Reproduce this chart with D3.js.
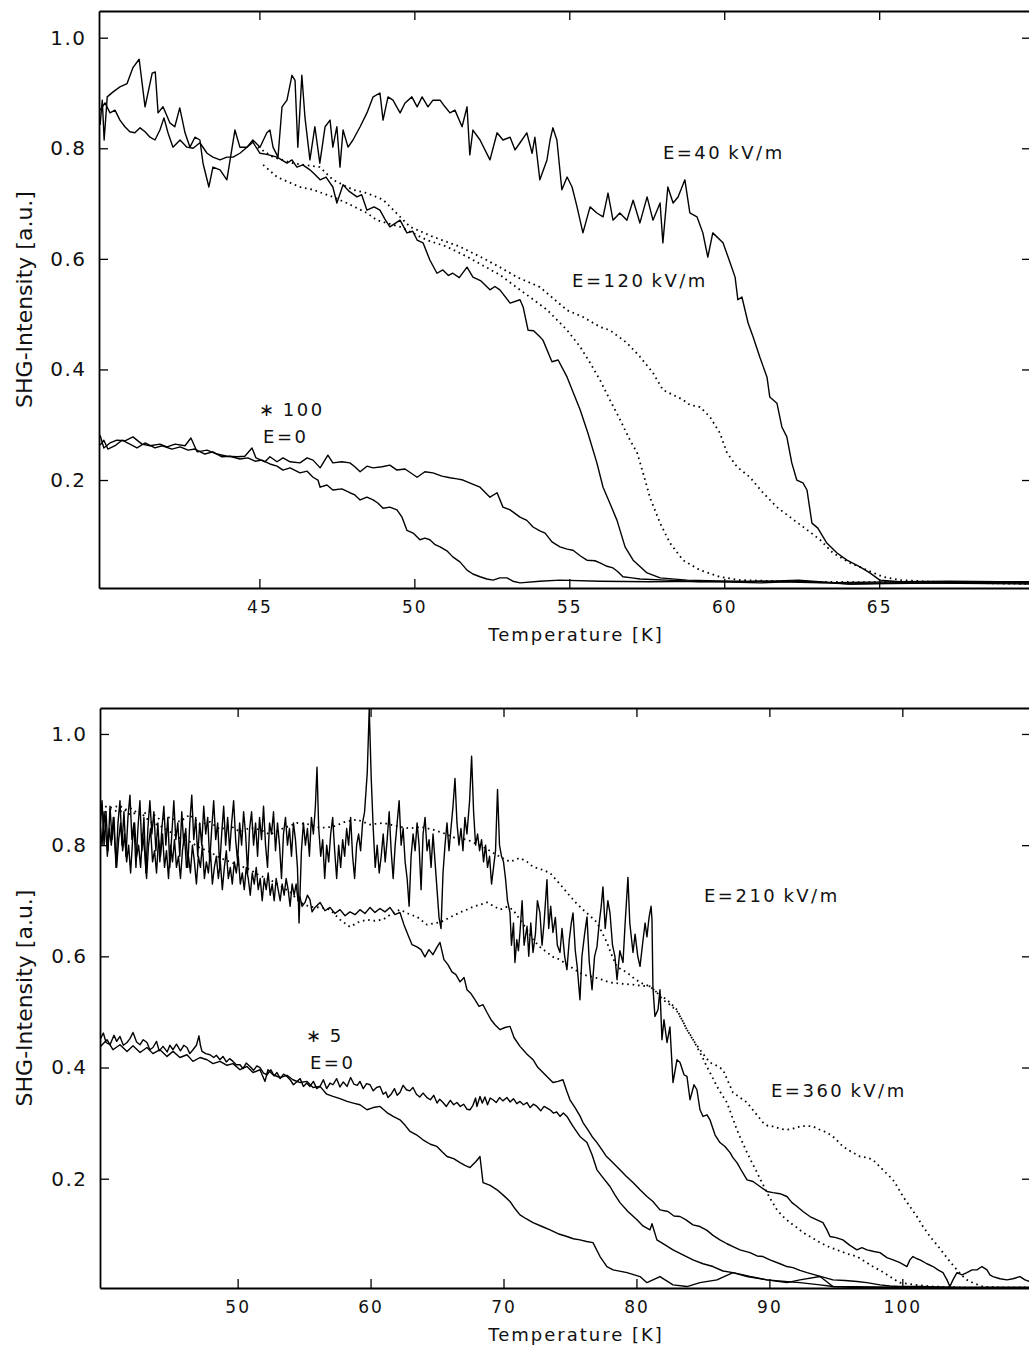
<!DOCTYPE html>
<html>
<head>
<meta charset="utf-8">
<script src="https://cdn.jsdelivr.net/npm/d3@7"></script>
<style>
  body { margin: 0; background: #fff; }
  text { font-family: "DejaVu Sans", sans-serif; fill: #111; }
  .axis path.domain { stroke: #000; stroke-width: 1.8; }
  .axis line { stroke: #000; stroke-width: 1.3; }
  .x-axis text { font-size: 17px; letter-spacing: 2px; }
  .y-axis text { font-size: 20px; letter-spacing: 1.5px; }
  .x-title { font-size: 18px; letter-spacing: 2px; }
  .y-title { font-size: 22px; }
  .note { font-size: 18px; letter-spacing: 2.5px; }
</style>
</head>
<body>
<svg id="chart" width="1029" height="1352"></svg>
<script>
// ---- tick values ----
const topXTicks = [45, 50, 55, 60, 65];
const botXTicks = [50, 60, 70, 80, 90, 100];
const yTicks = [0.2, 0.4, 0.6, 0.8, 1.0];

// ---- upper panel: [T (K), SHG intensity] ----
const topE40 = [[39.86,0.842],[39.93,0.887],[39.99,0.815],[40.09,0.893],[40.28,0.902],[40.50,0.911],[40.73,0.917],[40.92,0.946],[41.12,0.961],[41.31,0.875],[41.54,0.936],[41.64,0.938],[41.73,0.864],[41.89,0.875],[42.11,0.846],[42.27,0.839],[42.43,0.873],[42.60,0.828],[42.76,0.802],[42.92,0.820],[43.08,0.815],[43.18,0.773],[43.37,0.730],[43.50,0.766],[43.73,0.761],[43.95,0.743],[44.21,0.833],[44.37,0.802],[44.60,0.802],[44.79,0.815],[45.02,0.802],[45.24,0.828],[45.34,0.833],[45.44,0.802],[45.60,0.784],[45.73,0.875],[45.89,0.887],[46.05,0.932],[46.15,0.923],[46.24,0.802],[46.37,0.932],[46.47,0.856],[46.63,0.779],[46.79,0.839],[46.95,0.773],[47.12,0.839],[47.28,0.851],[47.37,0.802],[47.50,0.839],[47.60,0.766],[47.70,0.833],[47.86,0.802],[48.02,0.815],[48.25,0.839],[48.47,0.864],[48.67,0.893],[48.89,0.900],[48.99,0.851],[49.15,0.893],[49.31,0.887],[49.54,0.864],[49.70,0.882],[49.92,0.893],[50.09,0.875],[50.25,0.893],[50.44,0.875],[50.60,0.887],[50.83,0.887],[50.99,0.875],[51.15,0.864],[51.31,0.869],[51.54,0.839],[51.70,0.875],[51.79,0.788],[51.89,0.833],[52.12,0.815],[52.44,0.779],[52.67,0.828],[52.86,0.815],[53.09,0.820],[53.25,0.797],[53.41,0.810],[53.63,0.828],[53.80,0.791],[53.89,0.820],[54.05,0.743],[54.28,0.779],[54.38,0.815],[54.47,0.837],[54.60,0.815],[54.76,0.725],[54.93,0.748],[55.09,0.730],[55.25,0.694],[55.44,0.647],[55.67,0.694],[55.89,0.683],[56.09,0.676],[56.25,0.719],[56.41,0.670],[56.63,0.683],[56.86,0.670],[57.06,0.706],[57.28,0.665],[57.51,0.712],[57.70,0.670],[57.93,0.701],[58.02,0.629],[58.18,0.730],[58.35,0.701],[58.51,0.712],[58.73,0.743],[58.89,0.683],[59.12,0.676],[59.31,0.647],[59.47,0.603],[59.63,0.647],[59.96,0.629],[60.19,0.593],[60.35,0.567],[60.44,0.526],[60.57,0.531],[60.77,0.484],[60.93,0.459],[61.15,0.422],[61.38,0.386],[61.47,0.350],[61.70,0.339],[61.86,0.296],[62.02,0.278],[62.18,0.231],[62.34,0.200],[62.54,0.195],[62.67,0.182],[62.83,0.122],[63.02,0.113],[63.31,0.086],[63.64,0.068],[63.96,0.055],[64.38,0.043],[64.70,0.032],[65.02,0.019],[65.67,0.016],[67.28,0.017],[68.89,0.016],[69.90,0.016]];

const topE120 = [[39.86,0.869],[40.02,0.882],[40.18,0.864],[40.34,0.869],[40.50,0.851],[40.66,0.839],[40.82,0.830],[40.98,0.828],[41.15,0.837],[41.31,0.830],[41.47,0.820],[41.63,0.815],[41.79,0.833],[41.92,0.855],[42.05,0.828],[42.21,0.802],[42.44,0.815],[42.66,0.802],[42.86,0.800],[43.08,0.810],[43.31,0.791],[43.50,0.784],[43.73,0.779],[43.95,0.784],[44.15,0.784],[44.37,0.791],[44.60,0.802],[44.79,0.811],[45.02,0.791],[45.24,0.789],[45.57,0.784],[45.89,0.773],[46.05,0.779],[46.21,0.766],[46.40,0.770],[46.63,0.761],[46.80,0.752],[46.96,0.743],[47.15,0.748],[47.37,0.730],[47.50,0.701],[47.70,0.734],[47.90,0.722],[48.15,0.712],[48.30,0.716],[48.47,0.688],[48.70,0.694],[48.89,0.688],[49.05,0.672],[49.21,0.658],[49.54,0.670],[49.76,0.647],[49.95,0.650],[50.09,0.634],[50.28,0.629],[50.50,0.598],[50.73,0.574],[50.92,0.580],[51.10,0.570],[51.24,0.574],[51.45,0.566],[51.70,0.585],[51.89,0.567],[52.15,0.560],[52.44,0.544],[52.60,0.550],[52.76,0.544],[53.09,0.520],[53.41,0.526],[53.51,0.513],[53.67,0.471],[53.85,0.470],[54.05,0.459],[54.15,0.453],[54.44,0.414],[54.64,0.417],[54.93,0.386],[55.12,0.359],[55.35,0.327],[55.60,0.285],[55.89,0.231],[56.09,0.187],[56.31,0.158],[56.54,0.127],[56.80,0.079],[57.06,0.055],[57.51,0.032],[57.93,0.023],[58.80,0.019],[60.83,0.016],[62.40,0.019],[64.06,0.012],[67.28,0.014],[69.90,0.014]];

const topE120DotA = [[44.95,0.802],[45.44,0.784],[46.08,0.773],[46.95,0.766],[47.37,0.743],[48.02,0.725],[48.47,0.719],[48.99,0.707],[49.31,0.689],[49.86,0.658],[50.60,0.640],[51.47,0.622],[52.12,0.604],[52.76,0.585],[53.31,0.567],[54.05,0.549],[54.93,0.507],[55.44,0.495],[55.99,0.477],[56.31,0.471],[56.86,0.448],[57.28,0.423],[57.70,0.394],[58.02,0.363],[58.35,0.354],[58.67,0.345],[58.89,0.336],[59.22,0.332],[59.54,0.314],[59.86,0.285],[60.09,0.249],[60.41,0.224],[60.83,0.205],[61.25,0.177],[61.70,0.151],[62.12,0.133],[62.67,0.110],[63.09,0.092],[63.51,0.068],[64.06,0.050],[64.61,0.037],[65.12,0.025],[65.67,0.019],[66.73,0.016],[67.83,0.014],[69.90,0.012]];

const topE120DotB = [[45.12,0.770],[45.57,0.748],[46.31,0.730],[46.73,0.725],[47.37,0.712],[47.82,0.701],[48.47,0.683],[48.79,0.670],[49.54,0.658],[50.41,0.634],[51.05,0.622],[51.70,0.604],[52.76,0.571],[53.41,0.544],[54.28,0.508],[54.93,0.471],[55.35,0.441],[55.67,0.412],[55.99,0.381],[56.31,0.345],[56.64,0.309],[56.96,0.272],[57.19,0.249],[57.38,0.213],[57.60,0.169],[57.93,0.122],[58.25,0.086],[58.67,0.055],[59.22,0.037],[59.86,0.025],[60.51,0.019],[62.44,0.016],[69.90,0.014]];

const topE0A = [[39.86,0.281],[39.98,0.258],[40.18,0.267],[40.40,0.272],[40.66,0.271],[40.92,0.278],[41.21,0.265],[41.47,0.262],[41.79,0.265],[42.02,0.260],[42.28,0.265],[42.60,0.262],[42.79,0.276],[42.99,0.251],[43.31,0.254],[43.63,0.247],[43.95,0.243],[44.28,0.242],[44.53,0.243],[44.76,0.258],[44.89,0.240],[45.18,0.233],[45.34,0.242],[45.57,0.233],[45.76,0.240],[45.99,0.233],[46.31,0.231],[46.54,0.240],[46.73,0.236],[46.96,0.222],[47.21,0.245],[47.37,0.231],[47.66,0.233],[47.92,0.231],[48.08,0.224],[48.25,0.215],[48.47,0.225],[48.67,0.222],[48.96,0.224],[49.21,0.227],[49.44,0.218],[49.70,0.220],[50.09,0.205],[50.34,0.215],[50.60,0.213],[50.89,0.207],[51.15,0.204],[51.38,0.202],[51.57,0.200],[51.86,0.193],[52.12,0.187],[52.44,0.169],[52.67,0.177],[52.86,0.151],[53.09,0.146],[53.41,0.133],[53.63,0.127],[53.83,0.115],[54.05,0.108],[54.22,0.104],[54.44,0.088],[54.70,0.079],[54.93,0.075],[55.12,0.073],[55.35,0.063],[55.57,0.055],[55.83,0.054],[55.99,0.050],[56.22,0.044],[56.41,0.041],[56.57,0.034],[56.73,0.025],[57.02,0.023],[57.28,0.021],[58.15,0.019],[59.22,0.016],[61.15,0.017],[63.09,0.014],[65.67,0.016],[69.90,0.014]];

const topE0B = [[39.86,0.263],[39.98,0.272],[40.11,0.256],[40.34,0.262],[40.57,0.272],[40.82,0.265],[41.05,0.258],[41.31,0.267],[41.63,0.258],[41.86,0.262],[42.18,0.256],[42.44,0.260],[42.70,0.254],[42.92,0.256],[43.24,0.247],[43.50,0.251],[43.79,0.242],[44.05,0.243],[44.37,0.238],[44.63,0.240],[44.86,0.234],[45.08,0.236],[45.34,0.229],[45.57,0.225],[45.76,0.218],[45.99,0.222],[46.31,0.213],[46.54,0.216],[46.73,0.205],[46.89,0.200],[46.96,0.187],[47.18,0.191],[47.37,0.182],[47.66,0.184],[47.92,0.177],[48.08,0.173],[48.25,0.164],[48.47,0.169],[48.67,0.164],[48.83,0.158],[48.99,0.149],[49.21,0.151],[49.44,0.146],[49.60,0.133],[49.76,0.109],[49.96,0.104],[50.18,0.092],[50.34,0.095],[50.50,0.092],[50.67,0.083],[50.83,0.079],[51.05,0.072],[51.24,0.061],[51.47,0.052],[51.70,0.037],[51.89,0.030],[52.12,0.025],[52.34,0.021],[52.54,0.019],[52.76,0.023],[52.99,0.023],[53.18,0.017],[53.41,0.014],[54.05,0.017],[54.70,0.019],[55.99,0.017],[57.60,0.016],[59.22,0.017],[61.15,0.014],[62.44,0.017],[64.06,0.012],[65.67,0.014],[69.90,0.012]];

// ---- lower panel ----
const botSolidA = [[39.65,0.83],[39.8,0.88],[39.95,0.80],[40.1,0.86],[40.25,0.79],[40.4,0.87],[40.55,0.81],[40.7,0.85],[40.85,0.76],[41.0,0.84],[41.15,0.88],[41.3,0.80],[41.45,0.86],[41.6,0.78],[41.75,0.85],[41.9,0.89],[42.05,0.81],[42.2,0.84],[42.35,0.76],[42.5,0.83],[42.65,0.88],[42.8,0.79],[42.95,0.85],[43.1,0.75],[43.25,0.83],[43.4,0.88],[43.55,0.82],[43.7,0.86],[43.85,0.79],[44.0,0.84],[44.15,0.77],[44.3,0.83],[44.45,0.87],[44.6,0.80],[44.75,0.85],[44.9,0.76],[45.05,0.82],[45.2,0.88],[45.35,0.81],[45.5,0.84],[45.65,0.78],[45.8,0.86],[45.95,0.80],[46.1,0.83],[46.25,0.76],[46.4,0.84],[46.55,0.89],[46.7,0.81],[46.85,0.85],[47.0,0.78],[47.15,0.84],[47.3,0.80],[47.45,0.87],[47.6,0.82],[47.75,0.85],[47.9,0.77],[48.05,0.83],[48.2,0.88],[48.35,0.81],[48.5,0.84],[48.65,0.76],[48.8,0.82],[48.95,0.87],[49.1,0.80],[49.25,0.85],[49.4,0.79],[49.55,0.84],[49.7,0.88],[49.85,0.81],[50.0,0.77],[50.15,0.84],[50.3,0.80],[50.45,0.86],[50.6,0.82],[50.75,0.75],[50.9,0.83],[51.05,0.86],[51.2,0.80],[51.35,0.84],[51.5,0.78],[51.65,0.85],[51.8,0.81],[51.95,0.87],[52.1,0.80],[52.25,0.76],[52.4,0.84],[52.55,0.82],[52.7,0.86],[52.85,0.79],[53.0,0.84],[53.15,0.80],[53.3,0.74],[53.45,0.82],[53.6,0.85],[53.75,0.80],[53.9,0.83],[54.05,0.78],[54.2,0.84],[54.35,0.81],[54.5,0.76],[54.62,0.66],[54.8,0.79],[54.95,0.84],[55.1,0.80],[55.25,0.83],[55.4,0.78],[55.55,0.85],[55.7,0.82],[55.85,0.87],[55.97,0.94],[56.1,0.83],[56.25,0.78],[56.4,0.81],[56.55,0.74],[56.7,0.80],[56.85,0.77],[57.0,0.82],[57.15,0.85],[57.3,0.79],[57.45,0.74],[57.6,0.80],[57.75,0.76],[57.9,0.81],[58.05,0.78],[58.2,0.83],[58.35,0.80],[58.5,0.85],[58.65,0.78],[58.8,0.74],[58.95,0.80],[59.1,0.82],[59.25,0.79],[59.4,0.84],[59.55,0.86],[59.75,0.93],[59.9,1.045],[60.05,0.92],[60.2,0.83],[60.35,0.76],[60.5,0.80],[60.65,0.75],[60.8,0.78],[60.95,0.82],[61.1,0.77],[61.25,0.81],[61.4,0.86],[61.55,0.79],[61.7,0.74],[61.85,0.80],[62.0,0.84],[62.15,0.88],[62.3,0.80],[62.45,0.83],[62.6,0.77],[62.75,0.74],[62.9,0.69],[63.05,0.78],[63.2,0.82],[63.35,0.79],[63.5,0.84],[63.65,0.80],[63.8,0.72],[63.95,0.82],[64.1,0.85],[64.25,0.79],[64.4,0.81],[64.55,0.76],[64.7,0.82],[64.85,0.77],[65.0,0.72],[65.15,0.67],[65.3,0.65],[65.45,0.75],[65.6,0.80],[65.75,0.84],[65.9,0.79],[66.05,0.83],[66.2,0.87],[66.35,0.92],[66.5,0.84],[66.65,0.80],[66.8,0.83],[66.95,0.79],[67.1,0.85],[67.25,0.82],[67.45,0.88],[67.6,0.96],[67.75,0.86],[67.9,0.80],[68.05,0.82],[68.2,0.79],[68.35,0.81],[68.5,0.77],[68.65,0.80],[68.8,0.76],[68.95,0.78],[69.1,0.73],[69.25,0.76],[69.4,0.79],[69.55,0.90],[69.7,0.80],[69.85,0.78],[70.0,0.77],[70.15,0.74],[70.3,0.70],[70.49,0.678],[70.6,0.62],[70.75,0.66],[70.86,0.589],[71.0,0.63],[71.12,0.61],[71.24,0.643],[71.4,0.70],[71.55,0.62],[71.77,0.654],[71.9,0.60],[72.05,0.66],[72.22,0.607],[72.4,0.64],[72.55,0.70],[72.74,0.678],[72.9,0.62],[73.05,0.66],[73.27,0.738],[73.4,0.65],[73.55,0.69],[73.72,0.643],[73.9,0.67],[74.05,0.62],[74.25,0.607],[74.4,0.65],[74.6,0.60],[74.77,0.576],[74.95,0.63],[75.1,0.66],[75.23,0.678],[75.4,0.61],[75.55,0.58],[75.75,0.522],[75.9,0.60],[76.1,0.64],[76.28,0.671],[76.45,0.59],[76.66,0.540],[76.85,0.60],[77.03,0.617],[77.2,0.66],[77.35,0.69],[77.48,0.725],[77.65,0.65],[77.85,0.70],[78.01,0.678],[78.2,0.62],[78.38,0.60],[78.54,0.558],[78.75,0.61],[78.99,0.589],[79.15,0.66],[79.36,0.742],[79.5,0.66],[79.74,0.607],[79.9,0.64],[80.1,0.60],[80.27,0.582],[80.45,0.62],[80.65,0.66],[80.79,0.635],[80.95,0.67],[81.1,0.69],[81.17,0.666],[81.24,0.545],[81.39,0.492],[81.62,0.504],[81.77,0.540],[81.92,0.450],[82.07,0.486],[82.30,0.445],[82.52,0.473],[82.75,0.373],[83.05,0.414],[83.28,0.409],[83.58,0.387],[83.80,0.384],[84.03,0.342],[84.33,0.369],[84.55,0.360],[84.78,0.324],[85.01,0.312],[85.31,0.315],[85.53,0.306],[85.91,0.279],[86.28,0.265],[86.66,0.258],[87.04,0.247],[87.26,0.238],[87.56,0.229],[87.94,0.213],[88.32,0.198],[88.77,0.195],[89.29,0.186],[89.82,0.177],[90.27,0.175],[90.80,0.173],[91.32,0.168],[91.70,0.157],[92.08,0.150],[92.53,0.141],[93.05,0.132],[93.58,0.126],[94.03,0.121],[94.33,0.108],[94.56,0.096],[95.01,0.094],[95.53,0.090],[96.06,0.080],[96.59,0.072],[96.96,0.076],[97.34,0.072],[97.87,0.069],[98.32,0.067],[98.84,0.058],[99.30,0.054],[99.82,0.049],[100.35,0.042],[100.57,0.054],[100.80,0.060],[101.10,0.056],[101.33,0.054],[101.85,0.047],[102.31,0.042],[102.68,0.036],[103.06,0.031],[103.36,0.018],[103.58,0.006],[103.81,0.018],[104.11,0.031],[104.49,0.027],[104.86,0.031],[105.24,0.036],[105.62,0.036],[105.99,0.042],[106.37,0.036],[106.59,0.027],[106.82,0.024],[107.35,0.020],[107.87,0.018],[108.32,0.020],[108.85,0.024],[109.23,0.018],[109.60,0.015]];

const botSolidB = [[39.65,0.84],[39.8,0.80],[39.95,0.86],[40.1,0.82],[40.2,0.78],[40.35,0.83],[40.5,0.80],[40.65,0.85],[40.8,0.79],[40.9,0.76],[41.05,0.81],[41.2,0.84],[41.35,0.79],[41.5,0.82],[41.65,0.77],[41.8,0.80],[41.95,0.75],[42.1,0.81],[42.25,0.84],[42.4,0.78],[42.55,0.80],[42.7,0.76],[42.85,0.82],[43.0,0.79],[43.15,0.74],[43.3,0.80],[43.45,0.83],[43.6,0.77],[43.75,0.79],[43.9,0.75],[44.05,0.81],[44.2,0.78],[44.35,0.82],[44.5,0.76],[44.65,0.79],[44.8,0.74],[44.95,0.80],[45.1,0.77],[45.25,0.81],[45.4,0.76],[45.55,0.78],[45.7,0.74],[45.85,0.79],[46.0,0.82],[46.15,0.76],[46.3,0.78],[46.45,0.75],[46.6,0.80],[46.75,0.77],[46.9,0.73],[47.05,0.78],[47.2,0.76],[47.35,0.80],[47.5,0.74],[47.65,0.77],[47.8,0.75],[47.95,0.79],[48.1,0.73],[48.25,0.76],[48.4,0.78],[48.55,0.74],[48.7,0.77],[48.85,0.72],[49.0,0.76],[49.15,0.79],[49.3,0.74],[49.45,0.76],[49.6,0.73],[49.75,0.77],[49.9,0.75],[50.05,0.78],[50.2,0.73],[50.35,0.75],[50.5,0.72],[50.65,0.76],[50.8,0.74],[50.95,0.71],[51.1,0.75],[51.25,0.73],[51.4,0.76],[51.55,0.72],[51.7,0.74],[51.85,0.70],[52.0,0.74],[52.15,0.72],[52.3,0.75],[52.45,0.71],[52.6,0.73],[52.75,0.70],[52.9,0.74],[53.05,0.72],[53.2,0.70],[53.35,0.73],[53.5,0.71],[53.65,0.74],[53.8,0.72],[53.95,0.69],[54.1,0.73],[54.25,0.71],[54.4,0.73],[54.55,0.70],[54.69,0.707],[54.85,0.69],[55.07,0.697],[55.25,0.71],[55.44,0.702],[55.6,0.68],[55.82,0.688],[56.20,0.697],[56.57,0.682],[56.95,0.688],[57.32,0.677],[57.70,0.684],[58.08,0.673],[58.45,0.680],[58.83,0.675],[59.20,0.684],[59.58,0.677],[59.96,0.688],[60.33,0.679],[60.71,0.686],[61.08,0.680],[61.46,0.688],[61.84,0.675],[62.21,0.679],[62.51,0.657],[62.81,0.639],[63.12,0.621],[63.49,0.617],[63.79,0.612],[64.09,0.599],[64.39,0.612],[64.69,0.603],[64.99,0.616],[65.22,0.625],[65.52,0.594],[65.82,0.585],[66.12,0.572],[66.42,0.567],[66.73,0.554],[67.03,0.562],[67.25,0.540],[67.55,0.533],[67.85,0.522],[68.16,0.510],[68.46,0.513],[68.76,0.499],[69.06,0.486],[69.36,0.477],[69.74,0.468],[70.11,0.472],[70.49,0.474],[70.79,0.454],[71.24,0.438],[71.77,0.424],[72.22,0.414],[72.59,0.400],[72.97,0.391],[73.34,0.382],[73.72,0.373],[74.10,0.375],[74.47,0.378],[74.77,0.357],[75.00,0.342],[75.38,0.328],[75.75,0.313],[75.98,0.301],[76.35,0.288],[76.66,0.276],[77.03,0.265],[77.41,0.252],[77.71,0.241],[78.01,0.234],[78.38,0.225],[78.76,0.216],[79.21,0.205],[79.74,0.193],[80.27,0.180],[80.79,0.168],[81.24,0.159],[81.77,0.144],[82.37,0.141],[82.82,0.133],[83.28,0.132],[83.73,0.126],[84.25,0.117],[84.78,0.114],[85.31,0.107],[85.76,0.098],[86.28,0.090],[86.81,0.083],[87.26,0.078],[87.79,0.072],[88.54,0.067],[89.07,0.061],[89.52,0.060],[90.04,0.054],[90.80,0.047],[91.32,0.042],[91.77,0.040],[92.30,0.035],[92.83,0.031],[93.43,0.027],[94.18,0.022],[94.78,0.018],[95.69,0.017],[96.59,0.015],[97.34,0.013],[98.32,0.009],[99.07,0.007],[99.82,0.006],[101.33,0.006],[104.34,0.004],[109.60,0.004]];

const botDotA = [[39.65,0.855],[40.40,0.864],[41.15,0.860],[41.90,0.867],[42.66,0.855],[43.41,0.860],[44.16,0.846],[44.91,0.850],[45.66,0.842],[46.42,0.855],[47.17,0.837],[47.92,0.842],[48.67,0.828],[49.43,0.835],[50.18,0.824],[50.93,0.831],[51.68,0.828],[52.43,0.819],[53.19,0.828],[53.94,0.835],[54.47,0.840],[55.44,0.837],[56.20,0.831],[57.17,0.833],[58.08,0.842],[58.98,0.846],[59.96,0.837],[60.93,0.840],[62.21,0.833],[62.96,0.830],[63.72,0.833],[64.69,0.828],[65.45,0.822],[66.35,0.813],[67.25,0.810],[68.46,0.797],[69.74,0.779],[70.49,0.770],[71.24,0.777],[71.77,0.770],[72.22,0.761],[72.89,0.756],[73.50,0.750],[74.10,0.734],[74.77,0.715],[75.38,0.698],[75.98,0.684],[76.50,0.673],[77.03,0.661],[77.41,0.643],[77.78,0.625],[78.16,0.601],[78.54,0.581],[78.91,0.576],[79.29,0.571],[79.74,0.562],[80.27,0.553],[80.64,0.549],[81.02,0.546],[81.54,0.535],[81.92,0.528],[82.30,0.522],[82.67,0.513],[83.05,0.504],[83.80,0.468],[84.25,0.450],[84.78,0.432],[85.16,0.420],[85.53,0.409],[86.06,0.403],[86.51,0.396],[86.89,0.375],[87.26,0.355],[87.79,0.346],[88.32,0.337],[88.92,0.319],[89.52,0.301],[89.89,0.295],[90.27,0.294],[90.80,0.290],[91.32,0.288],[91.77,0.290],[92.30,0.294],[92.83,0.295],[93.28,0.294],[93.81,0.288],[94.33,0.283],[94.78,0.276],[95.16,0.267],[95.53,0.258],[96.06,0.250],[96.81,0.240],[97.34,0.238],[97.79,0.234],[98.17,0.225],[98.54,0.216],[98.92,0.207],[99.30,0.198],[99.67,0.184],[100.05,0.168],[100.57,0.150],[101.10,0.132],[101.55,0.114],[102.08,0.096],[102.61,0.081],[103.06,0.067],[103.58,0.051],[104.11,0.036],[104.49,0.026],[104.86,0.018],[105.47,0.011],[106.07,0.006],[107.35,0.004],[109.60,0.004]];

const botDotB = [[39.65,0.873],[40.40,0.867],[41.15,0.871],[41.90,0.855],[42.66,0.860],[43.41,0.842],[44.16,0.835],[44.91,0.824],[45.66,0.813],[46.42,0.806],[47.17,0.795],[47.92,0.788],[48.67,0.777],[49.43,0.770],[50.18,0.763],[50.93,0.756],[51.68,0.745],[52.43,0.738],[53.19,0.727],[53.94,0.716],[54.69,0.697],[55.44,0.689],[56.20,0.688],[56.95,0.684],[57.70,0.666],[58.45,0.653],[59.05,0.661],[59.73,0.666],[60.33,0.664],[60.93,0.666],[61.61,0.677],[62.21,0.684],[62.81,0.677],[63.49,0.671],[64.24,0.657],[64.69,0.659],[65.22,0.661],[65.97,0.670],[66.73,0.679],[67.25,0.684],[67.70,0.689],[68.23,0.693],[68.76,0.697],[69.21,0.691],[69.74,0.684],[70.26,0.689],[70.71,0.684],[71.24,0.666],[71.77,0.648],[72.22,0.630],[72.74,0.617],[73.27,0.607],[73.72,0.599],[74.25,0.594],[74.77,0.585],[75.38,0.576],[75.98,0.567],[76.73,0.563],[77.41,0.558],[78.01,0.553],[78.76,0.551],[79.74,0.549],[80.42,0.547],[81.02,0.546],[81.54,0.535],[81.99,0.522],[82.52,0.513],[83.05,0.501],[83.43,0.486],[83.80,0.468],[84.18,0.454],[84.55,0.437],[84.93,0.420],[85.31,0.401],[85.68,0.384],[86.06,0.366],[86.43,0.351],[86.81,0.337],[87.19,0.312],[87.56,0.288],[87.94,0.267],[88.32,0.247],[88.69,0.229],[89.07,0.211],[89.44,0.193],[89.82,0.175],[90.19,0.159],[90.57,0.144],[91.02,0.132],[91.55,0.121],[92.08,0.112],[92.53,0.103],[93.20,0.094],[93.81,0.085],[94.41,0.078],[95.08,0.072],[95.84,0.065],[96.59,0.060],[97.19,0.051],[97.79,0.042],[98.47,0.033],[99.07,0.024],[99.45,0.018],[99.82,0.013],[100.95,0.009],[102.31,0.006],[105.09,0.004],[109.60,0.004]];

const botE0A = [[39.65,0.450],[39.9,0.462],[40.1,0.445],[40.4,0.441],[40.7,0.458],[40.9,0.447],[41.15,0.456],[41.4,0.440],[41.68,0.445],[41.9,0.452],[42.13,0.463],[42.4,0.446],[42.66,0.441],[42.9,0.450],[43.18,0.445],[43.4,0.432],[43.63,0.436],[43.9,0.447],[44.1,0.430],[44.39,0.438],[44.7,0.428],[44.9,0.440],[45.14,0.432],[45.4,0.442],[45.7,0.430],[45.95,0.440],[46.19,0.436],[46.4,0.425],[46.64,0.432],[46.9,0.440],[47.09,0.457],[47.2,0.440],[47.32,0.429],[47.6,0.425],[47.92,0.423],[48.2,0.418],[48.4,0.422],[48.67,0.414],[48.9,0.420],[49.15,0.410],[49.4,0.416],[49.65,0.411],[49.9,0.405],[50.18,0.405],[50.4,0.398],[50.65,0.408],[50.93,0.402],[51.2,0.395],[51.45,0.403],[51.68,0.400],[51.95,0.390],[52.21,0.387],[52.5,0.396],[52.75,0.385],[52.96,0.391],[53.2,0.380],[53.45,0.388],[53.71,0.384],[53.95,0.378],[54.2,0.369],[54.47,0.375],[54.7,0.380],[54.95,0.366],[55.2,0.372],[55.44,0.366],[55.7,0.375],[55.95,0.362],[56.20,0.366],[56.45,0.378],[56.7,0.362],[56.95,0.372],[57.17,0.369],[57.45,0.380],[57.7,0.365],[57.95,0.374],[58.23,0.366],[58.5,0.382],[58.75,0.370],[59.0,0.368],[59.20,0.375],[59.45,0.362],[59.70,0.371],[59.96,0.369],[60.2,0.358],[60.45,0.364],[60.71,0.366],[60.95,0.352],[61.15,0.356],[61.31,0.346],[61.55,0.352],[61.8,0.362],[62.0,0.350],[62.21,0.355],[62.45,0.368],[62.7,0.360],[62.95,0.358],[63.19,0.364],[63.45,0.352],[63.7,0.347],[63.95,0.354],[64.24,0.346],[64.5,0.342],[64.75,0.350],[65.0,0.336],[65.2,0.343],[65.45,0.337],[65.7,0.330],[66.0,0.341],[66.25,0.333],[66.50,0.337],[66.75,0.330],[67.0,0.334],[67.25,0.325],[67.48,0.324],[67.7,0.332],[67.9,0.345],[68.0,0.330],[68.23,0.348],[68.4,0.336],[68.6,0.347],[68.8,0.333],[69.0,0.345],[69.21,0.342],[69.45,0.337],[69.7,0.346],[69.95,0.340],[70.26,0.346],[70.5,0.338],[70.75,0.344],[71.0,0.335],[71.24,0.339],[71.5,0.333],[71.77,0.337],[72.0,0.328],[72.25,0.334],[72.52,0.330],[72.8,0.322],[73.05,0.330],[73.28,0.327],[73.50,0.324],[73.75,0.318],[74.0,0.320],[74.25,0.312],[74.5,0.318],[74.77,0.312],[75.23,0.294],[75.75,0.276],[76.28,0.265],[76.66,0.243],[77.03,0.216],[77.48,0.202],[78.01,0.186],[78.38,0.171],[78.76,0.157],[79.36,0.141],[80.04,0.126],[80.49,0.115],[81.02,0.108],[81.17,0.119],[81.54,0.090],[82.15,0.081],[82.75,0.072],[83.50,0.063],[84.25,0.054],[85.01,0.047],[85.76,0.042],[86.51,0.034],[87.26,0.031],[88.54,0.024],[89.82,0.018],[91.17,0.015],[92.30,0.013],[93.81,0.009],[94.78,0.006],[100,0.005],[109.60,0.005]];

const botE0B = [[39.65,0.437],[40.17,0.450],[40.62,0.432],[41.15,0.441],[41.68,0.429],[42.13,0.439],[42.66,0.427],[43.18,0.436],[43.63,0.425],[44.16,0.432],[44.69,0.420],[45.14,0.429],[45.66,0.418],[46.19,0.423],[46.64,0.411],[47.17,0.418],[47.70,0.414],[48.15,0.407],[48.67,0.411],[49.20,0.404],[49.65,0.407],[50.18,0.396],[50.70,0.402],[51.16,0.391],[51.68,0.396],[52.06,0.375],[52.28,0.396],[52.66,0.387],[53.19,0.382],[53.71,0.386],[54.16,0.378],[54.69,0.373],[55.22,0.375],[55.67,0.364],[56.20,0.366],[56.7,0.352],[57.17,0.348],[57.7,0.344],[58.23,0.339],[58.7,0.336],[59.20,0.333],[59.73,0.324],[60.2,0.328],[60.71,0.330],[61.23,0.319],[61.7,0.312],[62.21,0.306],[62.6,0.296],[62.97,0.285],[63.45,0.279],[63.94,0.270],[64.5,0.262],[64.99,0.258],[65.4,0.248],[65.75,0.240],[66.25,0.236],[66.73,0.229],[67.1,0.224],[67.48,0.220],[67.93,0.231],[68.23,0.240],[68.46,0.193],[69.0,0.188],[69.51,0.180],[70.0,0.170],[70.49,0.159],[70.9,0.145],[71.24,0.135],[71.7,0.128],[72.22,0.121],[72.9,0.114],[73.50,0.108],[74.1,0.101],[74.77,0.096],[75.25,0.092],[75.75,0.090],[76.25,0.087],[76.73,0.085],[77.26,0.060],[77.78,0.042],[78.24,0.036],[79.29,0.031],[80.27,0.024],[80.79,0.013],[81.77,0.024],[82.75,0.009],[83.80,0.006],[84.78,0.013],[86.06,0.018],[87.26,0.031],[88.32,0.024],[89.82,0.018],[91.32,0.013],[92.30,0.018],[93.81,0.024],[94.78,0.006],[96.81,0.004],[109.60,0.004]];

const svg = d3.select('#chart');

class Panel {
  constructor(_config, _series, _notes) {
    this.config = _config;
    this.series = _series;
    this.notes = _notes;
    this.initVis();
  }

  initVis() {
    let vis = this;
    const c = vis.config;

    vis.xScale = d3.scaleLinear().domain(c.xDomain).range([0, c.width]);
    vis.yScale = d3.scaleLinear().domain(c.yDomain).range([c.height, 0]);

    vis.chart = svg.append('g')
      .attr('transform', `translate(${c.left},${c.top})`);

    vis.chart.append('clipPath').attr('id', c.id + '-clip')
      .append('rect').attr('width', c.width).attr('height', c.height);

    vis.line = d3.line()
      .x(d => vis.xScale(d[0]))
      .y(d => vis.yScale(d[1]));

    vis.chart.append('g')
      .attr('clip-path', `url(#${c.id}-clip)`)
      .selectAll('path')
      .data(vis.series)
      .join('path')
      .attr('fill', 'none')
      .attr('stroke', '#000')
      .attr('stroke-width', d => d.dotted ? 1.8 : 1.4)
      .attr('stroke-dasharray', d => d.dotted ? '1.6,3.8' : null)
      .attr('stroke-linejoin', 'round')
      .attr('d', d => vis.line(d.values));

    // ticks all point inward
    const tk = -9;
    vis.chart.append('g').attr('class', 'axis x-axis')
      .attr('transform', `translate(0,${c.height})`)
      .call(d3.axisBottom(vis.xScale).tickValues(c.xTicks).tickSizeInner(tk).tickSizeOuter(0)
        .tickPadding(13).tickFormat(d3.format('d')));
    vis.chart.append('g').attr('class', 'axis')
      .call(d3.axisTop(vis.xScale).tickValues(c.xTicks).tickSizeInner(tk).tickSizeOuter(0).tickFormat(''));
    vis.chart.append('g').attr('class', 'axis y-axis')
      .call(d3.axisLeft(vis.yScale).tickValues(yTicks).tickSizeInner(tk).tickSizeOuter(0)
        .tickPadding(12.5).tickFormat(d3.format('.1f')));
    vis.chart.append('g').attr('class', 'axis')
      .attr('transform', `translate(${c.width},0)`)
      .call(d3.axisRight(vis.yScale).tickValues(yTicks).tickSizeInner(tk).tickSizeOuter(0).tickFormat(''));

    vis.chart.selectAll('.axis').attr('font-family', null).attr('font-size', null);

    vis.chart.append('text')
      .attr('class', 'x-title')
      .attr('text-anchor', 'middle')
      .attr('x', 576 - c.left)
      .attr('y', c.height + 53)
      .text('Temperature [K]');

    vis.chart.append('text')
      .attr('class', 'y-title')
      .attr('text-anchor', 'middle')
      .attr('transform', `translate(${32 - c.left},${c.height / 2}) rotate(-90)`)
      .text('SHG-Intensity [a.u.]');

    vis.chart.selectAll('.note')
      .data(vis.notes)
      .join('text')
      .attr('class', 'note')
      .attr('x', d => vis.xScale(d.at[0]))
      .attr('y', d => vis.yScale(d.at[1]))
      .text(d => d.text);
  }
}

new Panel(
  { id: 'top', left: 99, top: 11, width: 932, height: 577,
    xDomain: [39.824, 69.899], yDomain: [0.0047, 1.0483], xTicks: topXTicks },
  [
    { values: topE0B }, { values: topE0A },
    { values: topE120DotB, dotted: true }, { values: topE120DotA, dotted: true },
    { values: topE120 }, { values: topE40 }
  ],
  [
    { text: 'E=40\u2009kV/m', at: [58.02, 0.781] },
    { text: 'E=120\u2009kV/m', at: [55.09, 0.549] },
    { text: '\u2217\u2009100', at: [44.99, 0.316] },
    { text: 'E=0', at: [45.12, 0.267] }
  ]
);

new Panel(
  { id: 'bot', left: 100, top: 708, width: 931, height: 580,
    xDomain: [39.647, 109.68], yDomain: [0.0034, 1.0467], xTicks: botXTicks },
  [
    { values: botE0B }, { values: botE0A },
    { values: botDotB, dotted: true }, { values: botDotA, dotted: true },
    { values: botSolidB }, { values: botSolidA }
  ],
  [
    { text: 'E=210\u2009kV/m', at: [85.08, 0.698] },
    { text: 'E=360\u2009kV/m', at: [90.12, 0.3475] },
    { text: '\u2217\u20095', at: [55.14, 0.4464] },
    { text: 'E=0', at: [55.44, 0.3979] }
  ]
);
</script>
</body>
</html>
